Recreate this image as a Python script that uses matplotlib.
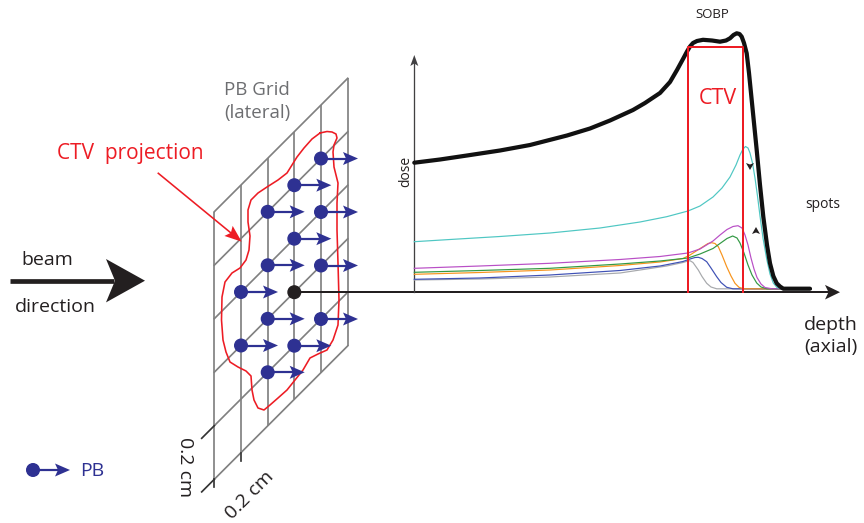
import matplotlib
matplotlib.use('Agg')
import matplotlib.pyplot as plt
from matplotlib.patches import Polygon, Circle
import numpy as np

plt.rcParams['font.family'] = ['Open Sans', 'DejaVu Sans']

# ---------------- data (pixel coordinates of the schematic) ----------------
grid_x = [214.3, 241.0, 267.7, 294.3, 321.0, 347.7]          # vertical grid lines
grid_row_y = [211.7, 265.2, 318.7, 372.2, 425.7, 479.3]      # diagonals at left edge
pb_cols = [1, 1, 2, 2, 2, 2, 3, 3, 3, 4, 4, 4, 4]
pb_rows = [2, 3, 1, 2, 3, 4, 1, 2, 4, 1, 2, 3, 4]
center_col, center_row = 3, 3

ctv_x = [320, 327, 332, 336, 337, 334, 333, 334, 338, 337, 337, 338, 339, 338, 333, 327,
         318, 310, 303, 295, 287, 278, 270, 264, 258, 254, 252, 251, 246, 238, 230, 226,
         223, 221.5, 222, 225, 232, 240, 246, 249, 250, 248, 248, 251, 258, 267, 278,
         287, 292, 297, 304, 312, 320]
ctv_y = [133, 131.5, 132, 134, 138, 145, 152, 167, 183, 203, 230, 263, 300, 325, 340, 350,
         354, 358, 370, 380, 390, 398, 405, 410, 408, 400, 390, 376, 371, 367, 362, 352,
         340, 320, 297, 282, 273, 268, 260, 250, 236, 222, 210, 200, 193, 187, 180,
         173, 165, 157, 148, 139, 133]

sobp_x = [414.3, 440, 467, 500, 530, 567, 590, 610, 633, 645, 660, 670, 677, 683, 687,
          690, 693, 697, 703, 712, 720, 726, 730, 733.5, 736.7, 739.5, 741.7, 744, 746.7, 749,
          751.7, 756.7, 760, 763.3, 767, 770, 773.3, 776.7, 780, 783.3, 810]
sobp_y = [162.7, 159.5, 155.5, 150.5, 145, 135.5, 128.5, 120.5, 110, 103, 93, 82, 70, 59,
          51.5, 46.5, 43, 41, 39.8, 40.5, 41.7, 40.5, 38.3, 35, 33.3, 34, 36.7, 43, 53.3, 73,
          100, 150, 185, 216.7, 245, 263.3, 276, 283.3, 286.5, 288.7, 288.7]

cyan_x = [414.3, 450, 500, 550, 600, 640, 666.7, 688, 700, 713, 722, 730, 736, 740, 743,
          745.5, 748, 750, 752.5, 755, 757.5, 760, 763, 766.7, 770, 773.3, 777, 781, 811]
cyan_y = [241.7, 239.5, 236.5, 233, 228, 222, 216.7, 211, 206, 197, 188, 177, 165, 155,
          149, 146.5, 148, 153, 163, 178, 196, 216, 238, 259, 274, 283, 287.5, 288.7, 288.7]

magenta_x = [414.3, 480, 550, 620, 660, 688, 700, 713, 720, 727, 733, 738, 742, 745, 748,
             751, 754, 757, 761, 765, 772, 811]
magenta_y = [268.3, 266, 263.3, 259.5, 256.5, 253, 249, 241, 235, 229.5, 226.5, 225.7, 228,
             235, 245, 258, 269, 277.5, 284, 287.5, 288.8, 289]

green_x = [414.3, 480, 550, 620, 660, 688, 700, 713, 720, 727, 732.7, 737, 740, 744, 748,
           752, 756.7, 761, 767, 811]
green_y = [272.3, 270.5, 268.3, 264, 261, 258, 254, 248.5, 243.5, 238.5, 236, 238, 243, 253,
           265, 275, 283, 287, 288.8, 289]

orange_x = [414.3, 480, 550, 620, 660, 683, 690, 697, 703, 708, 711.7, 715, 718.3, 722,
            726.7, 731, 735, 739, 744, 811]
orange_y = [274.3, 272.5, 270, 265.5, 262, 258.5, 255, 250.5, 246.7, 243.5, 242.7, 243.5,
            246.7, 255, 266.7, 276, 283.3, 287.3, 288.8, 289]

blue_x = [414.3, 480, 550, 620, 660, 683, 690, 695, 698.3, 702, 706.7, 711, 716.7, 721,
          726.7, 733, 811]
blue_y = [279.3, 278, 275, 270.5, 266, 261.5, 259, 257.5, 257.3, 258.5, 261.7, 268, 276.7,
          282.5, 287.3, 288.8, 289]

gray_x = [414.3, 480, 550, 620, 666.7, 683, 688, 690, 693, 698.3, 702, 706.7, 711, 716.7, 811]
gray_y = [280, 279, 277, 273, 266, 262.5, 261, 260.7, 262.5, 270, 276.5, 283.3, 287, 288.8, 289]

ctv_box_x = [688.3, 743.3]
ctv_box_y = [47.3, 292.0]

# ---------------- colours ----------------
RED = '#ed1c24'
NAVY = '#2e3192'
GRID = '#808080'
TGRAY = '#6d6e71'
INK = '#231f20'

W, H = 864, 523
fig = plt.figure(figsize=(W / 100, H / 100), dpi=100)
ax = fig.add_axes([0, 0, 1, 1])
ax.set_xlim(0, W)
ax.set_ylim(H, 0)
ax.axis('off')


def px(v):
    return v * 0.72


def head(tip, direction, length, half_w, notch, color, z=5):
    d = np.array(direction, float)
    d /= np.hypot(*d)
    n = np.array([-d[1], d[0]])
    t = np.array(tip, float)
    back = t - d * length
    pts = [t, back + n * half_w, back + d * notch, back - n * half_w]
    ax.add_patch(Polygon(pts, closed=True, facecolor=color, edgecolor='none', zorder=z))


def gy(x, row):
    return grid_row_y[row] - (x - grid_x[0])


# ---------------- grid ----------------
x0, x1 = grid_x[0], grid_x[-1]
for x in grid_x:
    ax.plot([x, x], [gy(x, 0), gy(x, len(grid_row_y) - 1)], color=GRID, lw=px(1.7), zorder=2,
            solid_capstyle='butt')
for r in range(len(grid_row_y)):
    ax.plot([x0, x1], [gy(x0, r), gy(x1, r)], color=GRID, lw=px(1.7), zorder=2)
# dimension ticks
ax.plot([grid_x[0], grid_x[0]], [gy(grid_x[0], 5), gy(grid_x[0], 5) + 8], color='#333333', lw=px(1.7))
ax.plot([grid_x[1], grid_x[1]], [gy(grid_x[1], 5), gy(grid_x[1], 5) + 8], color='#333333', lw=px(1.7))
for r in (4, 5):
    ax.plot([x0 - 12.6, x0], [gy(x0 - 12.6, r), gy(x0, r)], color='#333333', lw=px(1.7))

# CTV projection contour
ax.plot(ctv_x, ctv_y, color=RED, lw=px(1.6), zorder=3, solid_joinstyle='round')

# PB dots + arrows
for c, r in zip(pb_cols, pb_rows):
    x = grid_x[c]
    y = gy(x, r)
    ax.plot([x, x + 26], [y, y], color=NAVY, lw=px(2.2), zorder=5, solid_capstyle='butt')
    head((x + 37, y), (1, 0), 15, 6.5, 3, NAVY)
    ax.add_patch(Circle((x, y), 6.3, color=NAVY, zorder=6))
cx = grid_x[center_col]
cy = gy(cx, center_row)

# depth axis
ax.plot([cx, 829], [cy, cy], color=INK, lw=px(2.0), zorder=4)
head((840, cy), (1, 0), 15, 7.3, 3.5, INK)
ax.add_patch(Circle((cx, cy), 6.3, color=INK, zorder=6))

# dose axis
ax.plot([414.3, 414.3], [cy, 63], color='#414042', lw=px(1.3), zorder=4)
head((414.3, 55), (0, -1), 11, 4, 2.5, '#414042')

# curves
ax.plot(gray_x, gray_y, color='#a7a9ac', lw=px(1.2), zorder=6)
ax.plot(blue_x, blue_y, color='#3f51b5', lw=px(1.2), zorder=6)
ax.plot(orange_x, orange_y, color='#f7941d', lw=px(1.2), zorder=6)
ax.plot(green_x, green_y, color='#339944', lw=px(1.2), zorder=6)
ax.plot(magenta_x, magenta_y, color='#b94fc6', lw=px(1.2), zorder=6)
ax.plot(cyan_x, cyan_y, color='#4fc7c3', lw=px(1.2), zorder=6)
ax.plot(sobp_x, sobp_y, color='#111111', lw=px(4.2), zorder=7, solid_joinstyle='round',
        solid_capstyle='round')

# CTV box
ax.plot([ctv_box_x[0], ctv_box_x[0], ctv_box_x[1], ctv_box_x[1]],
        [ctv_box_y[1], ctv_box_y[0], ctv_box_y[0], ctv_box_y[1]],
        color=RED, lw=px(2.0), zorder=8)

# small markers
head((750, 170), (0, 1), 7, 4, 1.5, INK, z=9)
head((756, 227), (0, -1), 7, 4, 1.5, INK, z=9)

# beam arrow
ax.plot([10, 114], [280.7, 280.7], color=INK, lw=px(4.7), solid_capstyle='butt')
head((145, 280.7), (1, 0), 39, 21.7, 9, INK)

# red pointer arrow
ax.plot([158.3, 232], [173.3, 233.8], color=RED, lw=px(1.6), zorder=4)
head((241.7, 241.7), (83.4, 68.4), 17, 6.5, 3, RED, z=4)

# legend
ax.plot([33, 58], [470, 470], color=NAVY, lw=px(2.2), solid_capstyle='butt')
head((70, 470), (1, 0), 15, 6.5, 3, NAVY)
ax.add_patch(Circle((33, 470), 6.3, color=NAVY, zorder=6))
ax.text(80, 476, 'PB', color=NAVY, fontsize=14, va='baseline', ha='left')

# texts
ax.text(56.7, 159.3, 'CTV  projection', color=RED, fontsize=15, va='baseline', ha='left')
ax.text(256.5, 95, 'PB Grid', color=TGRAY, fontsize=13.5, va='baseline', ha='center')
ax.text(257.5, 118, '(lateral)', color=TGRAY, fontsize=13.5, va='baseline', ha='center')
ax.text(21.7, 265, 'beam', color=INK, fontsize=14, va='baseline', ha='left')
ax.text(15, 311.7, 'direction', color=INK, fontsize=14, va='baseline', ha='left')
ax.text(712.5, 14, 'SOBP', color=INK, fontsize=9.5, va='center', ha='center')
ax.text(717.5, 98, 'CTV', color=RED, fontsize=15.5, va='center', ha='center')
ax.text(406, 171, 'dose', color=INK, fontsize=10, va='center', ha='center', rotation=90)
ax.text(823, 205, 'spots', color=INK, fontsize=10, va='center', ha='center')
ax.text(804, 330, 'depth', color=INK, fontsize=14, va='baseline', ha='left')
ax.text(804, 352, '(axial)', color=INK, fontsize=14, va='baseline', ha='left')
ax.text(185, 467.5, '0.2 cm', color=INK, fontsize=14, va='center', ha='center', rotation=-90)
ax.text(250, 495, '0.2 cm', color=INK, fontsize=14, va='center', ha='center', rotation=45)

fig.savefig('out.png', dpi=100)
